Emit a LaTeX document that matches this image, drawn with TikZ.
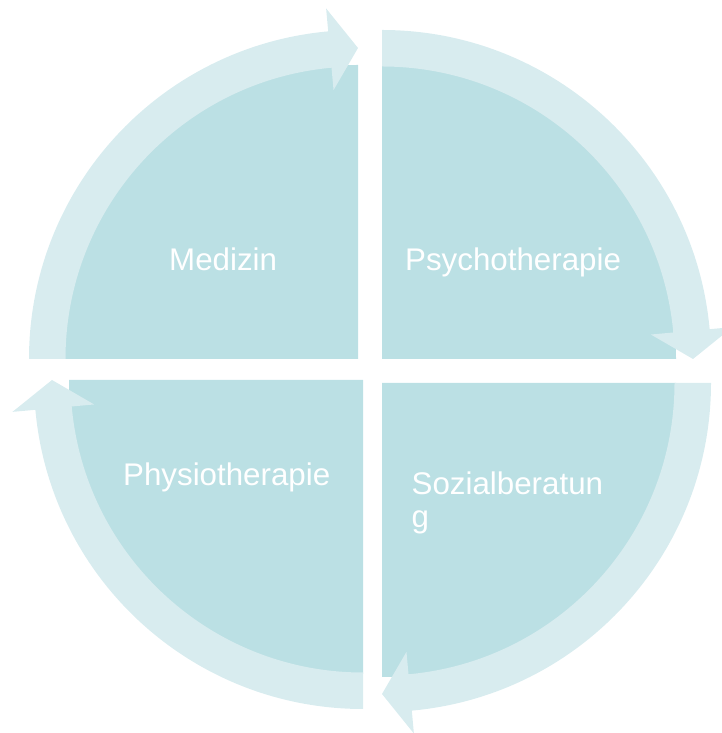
\documentclass[tikz,border=0pt]{standalone}
\usepackage{fontspec}
\setmainfont{Liberation Sans}
\definecolor{pieblue}{RGB}{187,224,228}
\definecolor{arrowblue}{RGB}{216,236,239}
\tikzset{
  pie/.style={fill=pieblue},
  ringarrow/.style={fill=arrowblue},
  lbl/.style={text=white, font=\fontsize{31.3}{33}\selectfont, inner sep=0pt, anchor=base west, align=left}
}
% #1 center, #2 start angle (tip is at #2-90)
\newcommand{\cyclearrow}[2]{%
  \begin{scope}[shift={#1}]
    \pgfmathsetmacro{\aback}{#2-90+5.2}
    \pgfmathsetmacro{\atip}{#2-90}
    \fill[ringarrow] (#2:329) arc[start angle=#2, end angle=\aback, radius=329]
      -- (\aback:352) -- (\atip:311) -- (\aback:270) -- (\aback:292.5)
      arc[start angle=\aback, end angle=#2, radius=292.5] -- cycle;
  \end{scope}}
\begin{document}
\begin{tikzpicture}[x=1pt,y=1pt]
  \useasboundingbox (0,0) rectangle (722,733);
  \clip (0,0) rectangle (722,733);
  % centres of the four quarters
  \coordinate (ctl) at (358,374);
  \coordinate (ctr) at (382,374);
  \coordinate (cbr) at (382,350);
  \coordinate (cbl) at (363,353);
  % quarter pies
  \fill[pie] (ctl) -- ++(180:294) arc[start angle=180, end angle=90, radius=294] -- cycle;
  \fill[pie] (ctr) -- ++(90:294) arc[start angle=90, end angle=0, radius=294] -- cycle;
  \fill[pie] (cbr) -- ++(0:294) arc[start angle=0, end angle=-90, radius=294] -- cycle;
  \fill[pie] (cbl) -- ++(-90:294) arc[start angle=-90, end angle=-180, radius=294] -- cycle;
  % circular arrows
  \cyclearrow{(ctl)}{180}
  \cyclearrow{(ctr)}{90}
  \cyclearrow{(cbr)}{0}
  \cyclearrow{(cbl)}{-90}
  % labels
  \node[lbl] (medizin) at (169,462) {Medizin};
  \node[lbl] (psycho) at (405,462) {Psychotherapie};
  \node[lbl] (physio) at (123,247) {Physiotherapie};
  \node[lbl] (sozial) at (411.5,205) {Sozialberatun\\g};
\end{tikzpicture}
\end{document}
